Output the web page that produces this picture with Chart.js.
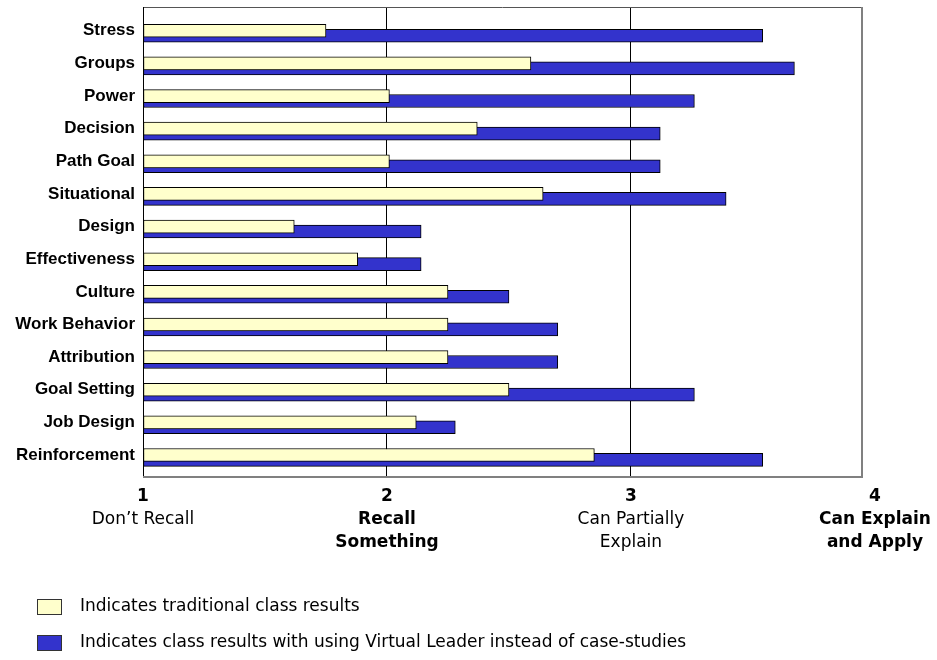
<!DOCTYPE html>
<html>
<head>
<meta charset="utf-8">
<script src="https://cdn.jsdelivr.net/npm/chart.js@4.4.1/dist/chart.umd.min.js"></script>
<style>
  html, body { margin: 0; padding: 0; background: #fff; }
  #wrap { width: 937px; height: 660px; }
</style>
</head>
<body>
<div id="wrap"><canvas id="chart" width="937" height="660"></canvas></div>
<script>
const categories = ['Stress', 'Groups', 'Power', 'Decision', 'Path Goal', 'Situational', 'Design',
  'Effectiveness', 'Culture', 'Work Behavior', 'Attribution', 'Goal Setting', 'Job Design', 'Reinforcement'];
const traditional = [1.75, 2.59, 2.01, 2.37, 2.01, 2.64, 1.62, 1.88, 2.25, 2.25, 2.25, 2.50, 2.12, 2.85];
const virtualLeader = [3.54, 3.67, 3.26, 3.12, 3.12, 3.39, 2.14, 2.14, 2.50, 2.70, 2.70, 3.26, 2.28, 3.54];
const tickValues = [1, 2, 3, 4];
const tickLabels = [["Don\u2019t Recall"], ['Recall', 'Something'], ['Can Partially', 'Explain'], ['Can Explain', 'and Apply']];
const tickBold = [false, true, false, true];
const legendLabels = ['Indicates traditional class results',
  'Indicates class results with using Virtual Leader instead of case-studies'];

const YELLOW = '#FFFFCC';
const BLUE = '#3333CC';

const extras = {
  id: 'extras',
  afterDraw(chart) {
    const c = chart.ctx;
    const a = chart.chartArea;
    const xs = chart.scales.x;
    c.save();
    // plot frame
    c.strokeStyle = '#555';
    c.lineWidth = 1;
    c.beginPath();
    c.moveTo(a.left, a.top + 0.5);
    c.lineTo(a.right, a.top + 0.5);
    c.stroke();
    c.strokeStyle = '#000';
    c.beginPath();
    c.moveTo(a.left + 0.5, a.top);
    c.lineTo(a.left + 0.5, a.bottom);
    c.stroke();
    c.strokeStyle = '#808080';
    c.lineWidth = 2;
    c.beginPath();
    c.moveTo(a.left, a.bottom);
    c.lineTo(a.right, a.bottom);
    c.lineTo(a.right, a.top);
    c.stroke();

    // x tick labels
    c.fillStyle = '#000';
    c.textAlign = 'center';
    c.textBaseline = 'middle';
    tickValues.forEach((v, i) => {
      const px = xs.getPixelForValue(v);
      c.font = 'bold 17px "DejaVu Sans"';
      c.fillText(String(v), px, a.bottom + 20);
      c.font = (tickBold[i] ? 'bold ' : '') + '17px "DejaVu Sans"';
      tickLabels[i].forEach((t, j) => c.fillText(t, px, a.bottom + 43 + j * 23));
    });

    // legend
    c.textAlign = 'left';
    c.font = '17px "DejaVu Sans"';
    [YELLOW, BLUE].forEach((col, i) => {
      const y = 599 + i * 36;
      c.fillStyle = col;
      c.fillRect(37, y, 25, 16);
      c.strokeStyle = '#333';
      c.lineWidth = 1;
      c.strokeRect(37.5, y + 0.5, 24, 15);
      c.fillStyle = '#000';
      c.fillText(legendLabels[i], 80, y + 8);
    });
    c.restore();
  }
};

new Chart(document.getElementById('chart'), {
  type: 'bar',
  data: {
    datasets: [{
      label: legendLabels[0],
      data: traditional.map((v, i) => ({ x: v, y: i })),
      yAxisID: 'y',
      backgroundColor: YELLOW,
      borderColor: '#000',
      borderWidth: 1,
      borderSkipped: false,
      base: 1,
      barThickness: 13,
      grouped: false
    }, {
      label: legendLabels[1],
      data: virtualLeader.map((v, i) => ({ x: v, y: i })),
      yAxisID: 'y2',
      backgroundColor: BLUE,
      borderColor: '#000',
      borderWidth: 1,
      borderSkipped: false,
      base: 1,
      barThickness: 13,
      grouped: false
    }]
  },
  options: {
    responsive: false,
    animation: false,
    indexAxis: 'y',
    layout: { padding: { left: 0, top: 7, right: 75, bottom: 183 } },
    plugins: { legend: { display: false }, tooltip: { enabled: false } },
    scales: {
      x: {
        type: 'linear',
        min: 1,
        max: 3.947,
        afterBuildTicks: s => { s.ticks = [1, 2, 3].map(v => ({ value: v })); },
        afterFit: s => { s.height = 0; s.paddingLeft = 0; s.paddingRight = 0; },
        ticks: { display: false },
        border: { display: false },
        grid: {
          color: ctx => (ctx.tick && ctx.tick.value === 1) ? 'rgba(0,0,0,0)' : '#000',
          lineWidth: 1,
          drawTicks: false
        }
      },
      y: {
        type: 'linear',
        reverse: true,
        offset: false,
        min: -0.729,
        max: 13.674,
        afterBuildTicks: s => { s.ticks = categories.map((c, i) => ({ value: i })); },
        afterFit: s => { s.width = 143; s.paddingTop = 0; s.paddingBottom = 0; },
        ticks: {
          callback: v => categories[v],
          color: '#000',
          padding: 0,
          font: { family: '"Liberation Sans", Arial', size: 17, weight: 'bold' }
        },
        grid: { display: false },
        border: { display: false }
      },
      y2: {
        type: 'linear',
        reverse: true,
        offset: false,
        min: -0.880,
        max: 13.524,
        display: false
      }
    }
  },
  plugins: [extras]
});
</script>
</body>
</html>
